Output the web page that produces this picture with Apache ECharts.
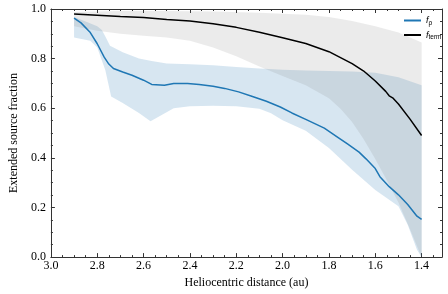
<!DOCTYPE html>
<html><head><meta charset="utf-8">
<script src="https://cdn.jsdelivr.net/npm/echarts@6/dist/echarts.min.js"></script>
<style>html,body{margin:0;padding:0;background:#fff}#c{width:448px;height:294px}</style>
</head><body><div id="c"></div>
<script>
// f_p line (heliocentric distance, fraction)
const fpLine = [[2.90,0.963],[2.87,0.944],[2.83,0.905],[2.80,0.860],[2.77,0.806],[2.75,0.778],[2.73,0.760],[2.69,0.746],[2.65,0.733],[2.60,0.713],[2.565,0.696],[2.51,0.693],[2.47,0.700],[2.41,0.700],[2.36,0.696],[2.30,0.689],[2.25,0.680],[2.19,0.666],[2.13,0.647],[2.07,0.628],[2.01,0.605],[1.96,0.581],[1.90,0.555],[1.82,0.520],[1.76,0.482],[1.72,0.456],[1.67,0.423],[1.64,0.396],[1.60,0.357],[1.58,0.324],[1.54,0.284],[1.50,0.251],[1.46,0.212],[1.42,0.165],[1.40,0.152]];
// f_term line
const ftermLine = [[2.90,0.980],[2.80,0.975],[2.70,0.970],[2.60,0.966],[2.50,0.958],[2.40,0.952],[2.30,0.941],[2.20,0.926],[2.10,0.906],[2.00,0.884],[1.90,0.861],[1.80,0.828],[1.70,0.780],[1.65,0.750],[1.60,0.710],[1.555,0.668],[1.54,0.650],[1.525,0.642],[1.50,0.617],[1.45,0.556],[1.40,0.490]];
// f_p band
const fpUpper = [[2.90,0.968],[2.85,0.950],[2.80,0.930],[2.78,0.915],[2.76,0.880],[2.745,0.852],[2.73,0.845],[2.69,0.826],[2.62,0.800],[2.565,0.790],[2.50,0.780],[2.40,0.777],[2.30,0.773],[2.20,0.766],[2.10,0.760],[2.00,0.755],[1.90,0.752],[1.80,0.750],[1.70,0.748],[1.60,0.743],[1.50,0.725],[1.40,0.693]];
const fpLower = [[2.90,0.885],[2.83,0.872],[2.80,0.845],[2.765,0.753],[2.74,0.647],[2.69,0.621],[2.62,0.581],[2.57,0.548],[2.52,0.574],[2.47,0.600],[2.40,0.608],[2.30,0.610],[2.20,0.608],[2.10,0.598],[2.05,0.580],[2.00,0.552],[1.90,0.509],[1.80,0.440],[1.70,0.352],[1.60,0.270],[1.50,0.205],[1.46,0.130],[1.42,0.030],[1.40,0.000]];
// f_term band
const ftermUpper = [[2.90,0.988],[2.70,0.992],[2.50,0.992],[2.30,0.990],[2.10,0.985],[1.90,0.977],[1.80,0.968],[1.70,0.952],[1.60,0.930],[1.50,0.905],[1.40,0.865]];
const ftermLower = [[2.90,0.930],[2.80,0.912],[2.70,0.900],[2.60,0.892],[2.50,0.885],[2.40,0.872],[2.30,0.845],[2.20,0.810],[2.10,0.768],[2.00,0.730],[1.90,0.693],[1.80,0.640],[1.75,0.598],[1.70,0.545],[1.65,0.475],[1.60,0.395],[1.55,0.310],[1.50,0.220],[1.45,0.112],[1.40,0.000]];
// ticks
const xMajorTicks = [3.0,2.8,2.6,2.4,2.2,2.0,1.8,1.6,1.4];
const xMinorTicks = [3.0,2.95,2.9,2.85,2.8,2.75,2.7,2.65,2.6,2.55,2.5,2.45,2.4,2.35,2.3,2.25,2.2,2.15,2.1,2.05,2.0,1.95,1.9,1.85,1.8,1.75,1.7,1.65,1.6,1.55,1.5,1.45,1.4,1.35];

const X_MIN = 1.312, X_MAX = 3.0;
const serif = 'Liberation Serif';

function band(upper, lower, color) {
  return {
    type: 'custom', xAxisIndex: 0, yAxisIndex: 0, silent: true, clip: true,
    data: [[2.0, 0.5]],
    encode: {x: 0, y: 1},
    renderItem: function (params, api) {
      const pts = upper.map(p => api.coord(p)).concat(lower.slice().reverse().map(p => api.coord(p)));
      return {type: 'polygon', shape: {points: pts}, style: {fill: color}};
    }
  };
}

function xAx(pos, ticks, len, showLine, showLabel) {
  return {
    type: 'value', position: pos, min: X_MIN, max: X_MAX, inverse: true,
    axisLine: {show: showLine, onZero: false, lineStyle: {color: '#333', width: 1}},
    axisTick: {show: true, inside: true, length: len, customValues: ticks, lineStyle: {color: '#333', width: 1}},
    axisLabel: {show: showLabel, customValues: xMajorTicks, formatter: v => v.toFixed(1), color: '#000', fontFamily: serif, fontSize: 12, margin: 3},
    splitLine: {show: false},
    name: showLabel ? 'Heliocentric distance (au)' : '',
    nameLocation: 'middle', nameGap: 19,
    nameTextStyle: {color: '#000', fontFamily: serif, fontSize: 12}
  };
}

function yAx(pos, showLabel) {
  return {
    type: 'value', position: pos, min: 0, max: 1, interval: 0.2,
    axisLine: {show: true, lineStyle: {color: '#333', width: 1}},
    axisTick: {show: true, inside: true, length: 4, lineStyle: {color: '#333'}},
    minorTick: {show: true, splitNumber: 4, length: 2, lineStyle: {color: '#333'}},
    axisLabel: {show: showLabel, formatter: v => v.toFixed(1), color: '#000', fontFamily: serif, fontSize: 12, margin: 5},
    splitLine: {show: false}, minorSplitLine: {show: false},
    name: showLabel ? 'Extended source fraction' : '',
    nameLocation: 'middle', nameGap: 23,
    nameTextStyle: {color: '#000', fontFamily: serif, fontSize: 12}
  };
}

const chart = echarts.init(document.getElementById('c'), null, {renderer: 'canvas'});
chart.setOption({
  animation: false,
  backgroundColor: '#fff',
  grid: {left: 35, right: 6, top: 9, bottom: 32},
  xAxis: [
    xAx('bottom', xMajorTicks, 4, true, true),
    xAx('bottom', xMinorTicks, 2, false, false),
    xAx('top', xMajorTicks, 4, true, false),
    xAx('top', xMinorTicks, 2, false, false)
  ],
  yAxis: [yAx('left', true), yAx('right', false)],
  legend: {
    orient: 'vertical', left: 399, top: 11, itemWidth: 17, itemHeight: 2, itemGap: 4,
    data: [{name: 'fp', icon: 'rect'}, {name: 'fterm', icon: 'rect'}],
    formatter: n => n === 'fp' ? '{i|f}{s|ρ}' : '{i|f}{s|term}',
    textStyle: {
      fontFamily: 'Liberation Sans', fontSize: 9, color: '#000',
      rich: {
        i: {fontStyle: 'italic', fontSize: 9, fontFamily: 'Liberation Sans'},
        s: {fontSize: 6.5, fontFamily: 'Liberation Sans', padding: [5, 0, 0, 0]}
      }
    }
  },
  series: [
    band(fpUpper, fpLower, 'rgba(31,119,180,0.18)'),
    band(ftermUpper, ftermLower, 'rgba(128,128,128,0.16)'),
    {name: 'fp', type: 'line', data: fpLine, showSymbol: false, symbol: 'none', lineStyle: {color: '#1f77b4', width: 1.5}, itemStyle: {color: '#1f77b4'}, z: 5},
    {name: 'fterm', type: 'line', data: ftermLine, showSymbol: false, symbol: 'none', lineStyle: {color: '#000', width: 1.5}, itemStyle: {color: '#000'}, z: 5}
  ]
});
</script></body></html>
